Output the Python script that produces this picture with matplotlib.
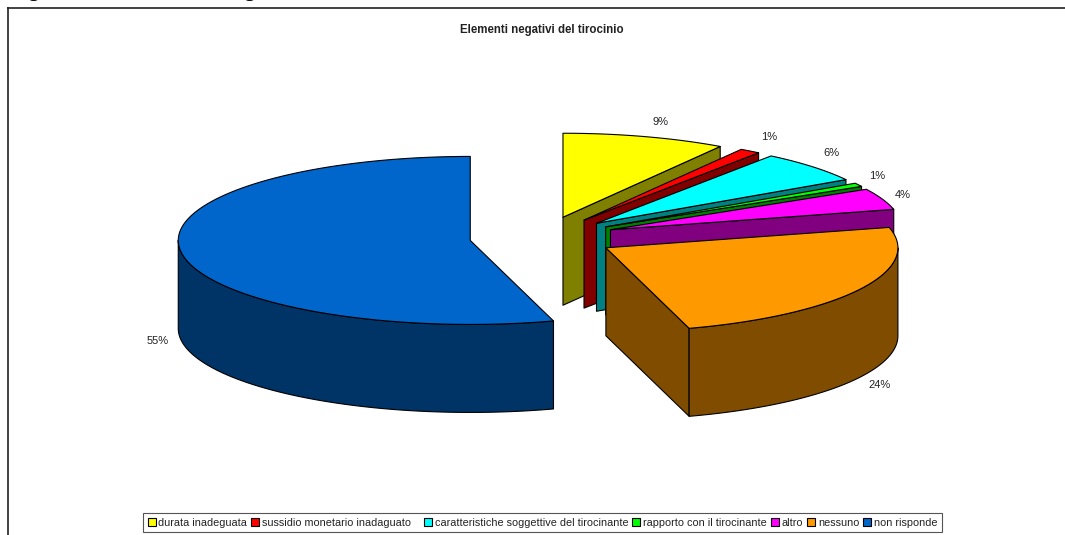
import numpy as np
import matplotlib
matplotlib.use("Agg")
import matplotlib.pyplot as plt
from matplotlib.patches import Polygon, Patch

categories = ["durata inadeguata", "sussidio monetario inadaguato",
              "caratteristiche soggettive del tirocinante",
              "rapporto con il tirocinante", "altro", "nessuno", "non risponde"]
values = [9.05, 1.15, 6.1, 0.7, 4.1, 24.3, 54.6]
top_colors = ["#FFFF00", "#FF0000", "#00FFFF", "#00FF00", "#FF00FF", "#FF9900", "#0066CC"]
side_colors = ["#808000", "#800000", "#008080", "#008000", "#800080", "#804C00", "#003366"]
label_offsets = [(16, -15), (19, -14), (19, -14), (19, -9), (20, -4), (20, 8), (-24, 0)]

CX, CY = 542.5, 237.4
RX, RY = 292.0, 84.0
EXPLODE = 73.0
DEPTH = 88.0
EDGE = "#000000"
LW = 0.8

plt.rcParams["font.family"] = ["Liberation Sans", "DejaVu Sans"]
fig = plt.figure(figsize=(10.65, 5.35), dpi=100, facecolor="white")
ax = fig.add_axes([0, 0, 1, 1])
ax.set_xlim(0, 1065)
ax.set_ylim(535, 0)
ax.axis("off")


def rim(ox, oy, t):
    return np.column_stack([ox + RX * np.sin(t), oy - RY * np.cos(t)])


total = sum(values)
edges = np.radians(np.concatenate([[0], np.cumsum(values)]) / total * 360)
slices = []
for i, v in enumerate(values):
    a, b = edges[i], edges[i + 1]
    mid = (a + b) / 2
    ox = CX + EXPLODE * np.sin(mid)
    oy = CY - EXPLODE * RY / RX * np.cos(mid)
    slices.append((i, a, b, mid, ox, oy))

# painter's order: the big back-left slice first, then clockwise
for i, a, b, mid, ox, oy in [slices[-1]] + slices[:-1]:
    apex = np.array([ox, oy])
    down = np.array([0, DEPTH])
    # radial end faces
    if 0 < b % (2 * np.pi) < np.pi:
        p = rim(ox, oy, np.array([b]))[0]
        ax.add_patch(Polygon([apex, p, p + down, apex + down], closed=True,
                             fc=side_colors[i], ec=EDGE, lw=LW, joinstyle="round"))
    if a % (2 * np.pi) > np.pi:
        p = rim(ox, oy, np.array([a]))[0]
        ax.add_patch(Polygon([apex, p, p + down, apex + down], closed=True,
                             fc=side_colors[i], ec=EDGE, lw=LW, joinstyle="round"))
    # outer curved wall
    lo, hi = max(a, np.pi / 2), min(b, 3 * np.pi / 2)
    if hi > lo:
        t = np.linspace(lo, hi, 120)
        r = rim(ox, oy, t)
        ax.add_patch(Polygon(np.vstack([r, (r + down)[::-1]]), closed=True,
                             fc=side_colors[i], ec=EDGE, lw=LW, joinstyle="round"))
    # top face
    t = np.linspace(a, b, 160)
    ax.add_patch(Polygon(np.vstack([apex, rim(ox, oy, t)]), closed=True,
                         fc=top_colors[i], ec=EDGE, lw=LW, joinstyle="round"))
    # percent label
    q = rim(ox, oy, np.array([mid]))[0]
    if np.cos(mid) < 0:
        q = q + down
    dx, dy = label_offsets[i]
    ax.text(q[0] + dx, q[1] + dy, f"{round(values[i] / total * 100)}%",
            ha="center", va="center", fontsize=8, color="#222222")

# chart frame: only top and left edges fall inside the crop
ax.plot([7, 1065], [7.5, 7.5], color="#222222", lw=1.2, solid_capstyle="butt")
ax.plot([7.5, 7.5], [7, 535], color="#222222", lw=1.2, solid_capstyle="butt")

# descenders of the caption cut by the top of the crop
for x in (33, 249):
    ax.text(x, -3.4, "g", family="Liberation Serif", weight="bold", fontsize=14,
            ha="center", va="baseline", color="black", clip_on=False)

ax.text(542, 30, "Elementi negativi del tirocinio", ha="center", va="center",
        fontsize=8.3, fontweight="bold", color="#222222")

handles = [Patch(facecolor=c, edgecolor="black", linewidth=0.8) for c in top_colors]
# the reference leaves a wider gap after the second entry
shown = [c + "\u00a0\u00a0\u00a0" if i == 1 else c for i, c in enumerate(categories)]
leg = ax.legend(handles, shown, ncol=7, loc="upper left",
                bbox_to_anchor=(143 / 1065, 1 - 513 / 535), bbox_transform=ax.transAxes,
                fontsize=7.8, frameon=True, fancybox=False, framealpha=1,
                edgecolor="#555555", borderpad=0.42, borderaxespad=0,
                handlelength=0.75, handleheight=0.8, handletextpad=0.25,
                columnspacing=0.36, labelspacing=0)
leg.get_frame().set_linewidth(0.8)
for t in leg.get_texts():
    t.set_color("#222222")

fig.savefig("out.png", dpi=100)
